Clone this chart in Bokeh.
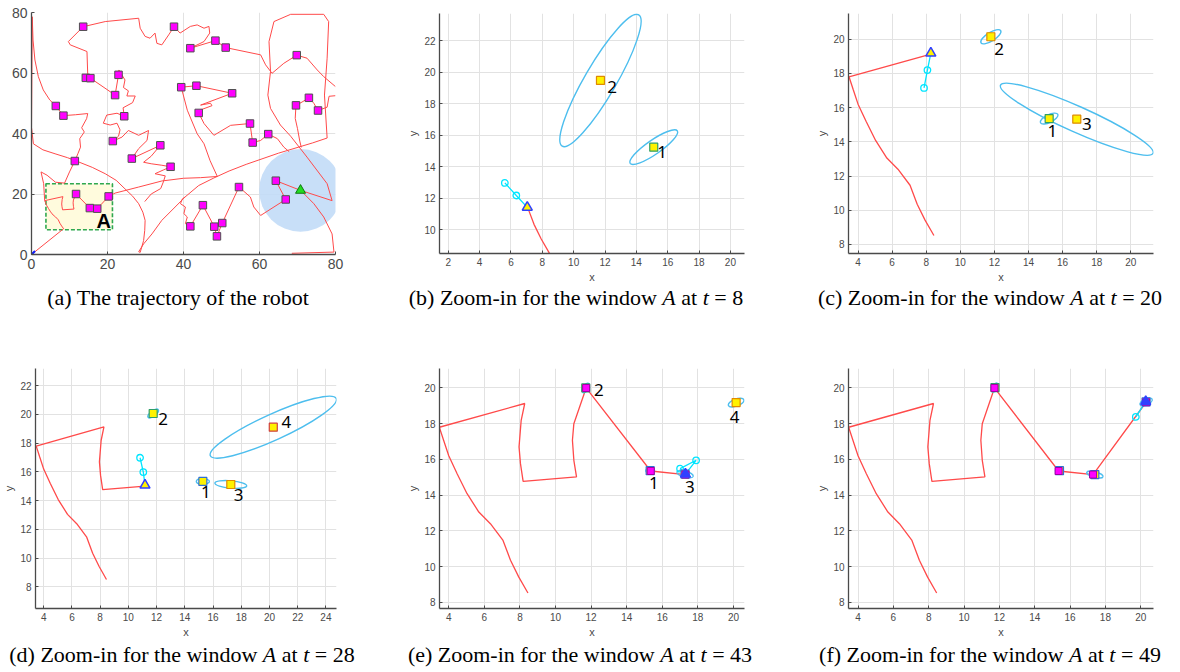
from bokeh.plotting import figure
from bokeh.layouts import row, column
from bokeh.models import Range1d, Div
from bokeh.embed import file_html
from bokeh.resources import INLINE
from bokeh.core.properties import value

# ---------------- panel (a): full trajectory ----------------
LM_X = [13.6, 37.5, 41.8, 48.4, 51.1, 69.8, 14.3, 15.5, 22.9, 22.0, 24.4, 6.4, 8.4, 39.4, 43.4, 52.8, 44.0, 69.6, 73.0, 75.4,
        57.5, 58.2, 62.3, 21.4, 33.9, 26.4, 36.6, 11.4, 11.72, 15.35, 17.3, 20.3, 41.8, 45.1, 48.1, 50.2, 48.8, 54.6, 64.3, 66.9]
LM_Y = [75.3, 75.3, 68.2, 70.7, 68.4, 65.9, 58.4, 58.3, 59.4, 52.7, 45.7, 49.1, 45.9, 55.3, 55.8, 53.3, 46.8, 49.3, 51.8, 47.6,
        43.3, 37.0, 39.8, 37.5, 36.1, 31.7, 29.0, 30.9, 20.0, 15.35, 15.15, 19.2, 9.3, 16.3, 9.2, 10.4, 6.0, 22.3, 24.4, 18.2]

ROBOT_A = (70.8, 21.2)
START_A = (0.0, 0.0)
SENSE_R = 10.9
WIN_A = (3.8, 21.3, 8.2, 23.4)

PATH_A1_X = [0.2, 0.4, 0.9, 1.8, 3.1, 4.8, 6.4, 8.4, 11.6, 14.8, 14.5, 13.2, 13.9, 12.7, 12.9, 12.2, 11.4, 10.0, 8.7, 6.3, 4.1, 2.5, 3.2, 3.47]
PATH_A1_Y = [78.6, 70.9, 64.3, 58.8, 54.4, 51.1, 49.1, 45.9, 46.2, 46.6, 44.9, 41.9, 40.5, 38.3, 35.5, 33.3, 30.9, 27.3, 23.6, 23.9, 26.2, 27.3, 23.4, 17.8]

PATH_A3_X = [0.2, 0.1, 0.0, 0.5, 3.0, 6.2, 9.5, 12.4, 16.0, 19.4, 22.3, 24.6, 26.6, 28.2, 29.3, 29.9, 29.8, 29.5, 28.6, 28.2, 29.5,
             31.7, 34.3, 37.8, 40.4, 44.0, 48.0, 52.0, 56.5, 65.0, 74.0, 77.8, 77.1, 77.8, 78.2, 76.9, 68.2, 63.8, 62.5, 62.9,
             62.2, 62.9, 65.5, 68.2, 72.5, 77.8, 79.1, 70.8, 64.3, 66.9, 60.3, 58.5, 57.6, 54.6, 50.2, 48.8, 48.1, 45.1, 41.8,
             40.5, 41.0, 40.1, 40.5, 39.2, 39.7, 40.4]
PATH_A3_Y = [78.6, 60.0, 42.0, 36.6, 34.6, 33.3, 32.0, 30.6, 28.8, 26.7, 24.5, 21.7, 19.3, 16.8, 14.0, 11.3, 8.0, 4.6, 0.7, 0.9, 3.5,
             6.8, 11.3, 15.7, 19.0, 22.8, 25.3, 27.6, 29.8, 33.5, 36.9, 38.5, 52.7, 64.9, 77.0, 79.4, 79.4, 77.0, 70.4, 60.5,
             52.7, 48.3, 42.8, 39.1, 32.2, 23.4, 17.8, 21.2, 24.4, 18.2, 12.9, 15.7, 19.0, 22.3, 10.4, 6.0, 9.2, 16.3, 9.3,
             10.2, 12.4, 13.5, 15.7, 16.8, 18.4, 19.0]

PATH_A4_X = [70.8, 71.7, 74.3, 76.9, 79.1, 79.6, 68.5]
PATH_A4_Y = [21.2, 20.1, 16.8, 12.4, 6.8, 0.8, 0.4]

PATH_A5_X = [14.3, 14.8, 14.6, 10.2, 9.7, 13.6, 19.4, 28.2, 28.6, 29.9, 31.2, 32.5, 33.0, 34.3, 36.1, 37.5, 39.1, 41.8, 43.6,
             45.4, 46.7, 46.9, 45.4, 41.8, 48.4, 51.1, 60.3, 61.6, 63.3, 66.4, 69.8, 72.5, 75.2, 76.9, 80.0]
PATH_A5_Y = [58.4, 59.4, 67.1, 69.3, 70.4, 75.3, 77.0, 78.1, 74.8, 72.1, 71.5, 73.2, 69.8, 69.3, 72.6, 75.3, 73.2, 75.4, 75.9,
             74.8, 75.4, 73.2, 70.4, 68.2, 70.7, 68.4, 66.0, 62.7, 59.9, 63.2, 65.9, 64.9, 61.0, 58.8, 55.5]

PATH_A6_X = [14.3, 15.5, 22.0, 22.9, 23.0, 24.6, 24.2, 25.5, 25.1, 27.3, 26.6, 24.1, 24.4, 22.5, 19.8, 18.9, 20.7, 22.5, 23.3,
             22.9, 21.4, 23.8, 25.5, 28.2, 30.8, 30.4, 28.2, 26.4, 33.9, 31.5, 29.5, 31.5, 34.3, 36.6, 34.8, 32.5, 35.2, 34.7,
             34.0, 31.5, 29.8]
PATH_A6_Y = [58.4, 58.3, 52.7, 59.4, 61.0, 57.7, 55.2, 54.1, 52.4, 52.4, 50.2, 48.5, 45.7, 46.7, 46.1, 43.4, 42.8, 43.4, 41.2,
             39.1, 37.5, 38.8, 41.0, 39.4, 41.0, 37.7, 35.0, 31.7, 36.1, 32.5, 30.5, 30.0, 29.5, 29.0, 28.0, 26.7, 26.0, 24.0,
             21.8, 20.0, 17.5]

PATH_A7_X = [48.9, 47.0, 45.4, 43.6, 41.0, 39.4, 43.4, 52.8, 44.5, 47.1, 47.5, 44.5, 44.0, 45.4, 48.0, 52.4, 57.5, 58.2, 60.3,
             62.3, 64.7, 66.4, 67.8]
PATH_A7_Y = [25.8, 31.0, 36.6, 39.9, 47.7, 55.3, 55.8, 53.3, 49.4, 50.0, 49.2, 47.8, 46.8, 43.3, 39.4, 42.7, 43.3, 37.0, 37.7,
             39.8, 38.3, 35.5, 34.0]

PATH_A8_X = [80.0, 78.3, 77.8, 75.4, 74.3, 73.0, 71.2, 69.6, 69.4, 70.0, 70.6, 71.0]
PATH_A8_Y = [52.5, 52.3, 48.7, 47.6, 50.0, 51.8, 50.4, 49.3, 45.0, 41.6, 37.5, 35.4]

# trajectory inside window A (shared by the zoom-in panels)
WIN_X = [8.45, 7.93, 7.47, 7.05, 6.34, 5.69, 5.03, 4.47, 4.00, 3.72, 3.47, 8.27, 8.07, 7.95, 8.03, 8.18, 11.18, 11.03, 10.95,
         11.03, 11.72, 15.35, 17.30, 20.30]
WIN_Y = [8.52, 9.42, 10.35, 11.46, 12.40, 13.05, 14.08, 15.20, 16.20, 17.04, 17.80, 19.13, 18.19, 16.70, 15.76, 14.77, 15.02,
         15.95, 17.07, 18.00, 20.00, 15.35, 15.15, 19.20]
EXIT_X = [22.0, 28.2, 34.3, 40.0, 44.5, 48.9]
EXIT_Y = [20.3, 22.3, 24.3, 25.2, 25.4, 25.8]

# ---------------- zoom-in panels (b)-(f) ----------------
TIMES = [8, 20, 28, 43, 49]
WIN_N = [4, 12, 17, 23, 24]
ROBOT_X = [7.04, 8.27, 11.18, 17.30, 20.28]
ROBOT_Y = [11.43, 19.18, 15.08, 15.17, 19.24]

CYAN_X = [[7.04, 6.34, 5.61], [8.27, 8.07, 7.87], [11.18, 11.06, 10.83], [17.00, 17.30, 17.90, 17.00], [20.28, 19.72]]
CYAN_Y = [[11.43, 12.18, 12.98], [19.18, 18.19, 17.15], [15.08, 15.99, 16.99], [15.48, 15.17, 15.95, 15.48], [19.24, 18.38]]
CIRC_X = [[6.34, 5.61], [8.07, 7.87], [11.06, 10.83], [17.00, 17.90], [19.72]]
CIRC_Y = [[12.18, 12.98], [18.19, 17.15], [15.99, 16.99], [15.48, 15.95], [18.38]]

EST_ID = [[1, 2], [1, 2, 3], [1, 2, 3, 4], [1, 2, 3, 4], [1, 2, 3, 4]]
EST_X = [[15.11, 11.71], [15.21, 11.79, 16.83], [15.28, 11.76, 17.26, 20.27], [15.32, 11.70, 17.28, 20.15],
         [15.40, 11.75, 17.40, 20.30]]
EST_Y = [[15.25, 19.48], [15.36, 20.14, 15.32], [15.34, 20.07, 15.13, 19.12], [15.37, 20.00, 15.17, 19.18],
         [15.37, 20.02, 15.15, 19.22]]
ELL_W = [[3.66, 9.7], [1.13, 1.36, 9.8], [0.93, 0.9, 2.26, 9.8], [0.49, 0.6, 0.95, 0.92], [0.45, 0.55, 0.95, 0.75]]
ELL_H = [[0.9, 2.0], [0.45, 0.5, 1.5], [0.37, 0.35, 0.51, 1.8], [0.25, 0.3, 0.35, 0.4], [0.25, 0.3, 0.3, 0.35]]
ELL_A = [[34.7, 59.8], [25.6, 32.0, -24.1], [0.0, 36.8, -5.0, 24.5], [0.0, 60.0, -15.0, 20.0], [0.0, 60.0, -15.0, 25.0]]
EST_EDGE = [["#2E9E6A", "#E08A00"], ["#2E9E6A", "#E08A00", "#E08A00"], ["#2F6FD6", "#2E9E6A", "#E08A00", "#D04040"],
            ["#2F6FD6", "#2E9E6A", "#2F6FD6", "#E08A00"], ["#2F6FD6", "#2E9E6A", "#2F6FD6", "#2F6FD6"]]
LBL_X = [[15.65, 12.45], [15.40, 12.27, 17.42], [15.49, 12.46, 17.82, 21.20], [15.52, 12.43, 17.55, 20.07], []]
LBL_Y = [[14.95, 19.05], [14.63, 19.45, 15.06], [14.62, 19.68, 14.38, 19.50], [14.70, 19.87, 14.46, 18.38], []]
VISITED = [0, 0, 0, 3, 4]  # how many window landmarks (in visiting order) have been reached

RANGES_X = [(1.44, 20.9), (3.44, 21.33), (3.42, 24.75), (3.48, 20.62), (3.46, 20.72)]
RANGES_Y = [(8.5, 23.73), (7.47, 21.5), (6.5, 23.2), (7.65, 21.09), (7.65, 21.09)]
XTICKS = [list(range(2, 21, 2)), list(range(4, 21, 2)), list(range(4, 25, 2)), list(range(4, 21, 2)), list(range(4, 21, 2))]
YTICKS = [list(range(10, 23, 2)), list(range(8, 21, 2)), list(range(8, 23, 2)), list(range(8, 21, 2)), list(range(8, 21, 2))]

CAPTIONS = ["(a) The trajectory of the robot"] + \
    [f"({c}) Zoom-in for the window <i>A</i> at <i>t</i> = {t}" for c, t in zip("bcdef", TIMES)]

RED = "#FF4A4A"
ELL = "#4DBEEE"
CYAN = "#00E5FF"
AXC = "#4A4A4A"
GRID = "#E2E2E2"
FONT = "Liberation Sans"


def style(p, xt, yt, fs, labels):
    p.xaxis.ticker = xt
    p.yaxis.ticker = yt
    for ax in (p.xaxis[0], p.yaxis[0]):
        ax.major_label_text_font = FONT
        ax.major_label_text_font_size = fs
        ax.major_label_text_color = AXC
        ax.axis_line_color = AXC
        ax.axis_line_width = 1.3
        ax.major_tick_in = 3
        ax.major_tick_out = 0
        ax.major_tick_line_color = AXC
        ax.minor_tick_line_color = None
        ax.major_label_standoff = 4
        ax.axis_label_text_font = FONT
        ax.axis_label_text_font_size = "11px"
        ax.axis_label_text_font_style = "normal"
        ax.axis_label_text_color = AXC
        ax.axis_label_standoff = 2
    if labels:
        p.xaxis.axis_label = "x"
        p.yaxis.axis_label = "y"
    p.grid.grid_line_color = GRID
    p.outline_line_color = None
    p.background_fill_color = "white"
    p.border_fill_color = "white"


def make_fig(w, h, l, r, t, b, xr, yr):
    return figure(width=w, height=h, min_border_left=l, min_border_right=r, min_border_top=t, min_border_bottom=b,
                  x_range=Range1d(*xr), y_range=Range1d(*yr), output_backend="svg", toolbar_location=None,
                  margin=(0, 0, 0, 0))


# ---- panel (a)
pa = make_fig(390, 288, 31, 55, 12, 34, (0, 80), (0, 80))
style(pa, [0, 20, 40, 60, 80], [0, 20, 40, 60, 80], "14px", False)
pa.circle([ROBOT_A[0]], [ROBOT_A[1]], radius=SENSE_R, radius_dimension="x", fill_color="#C2DCF7", fill_alpha=0.9,
          line_color=None)
pa.quad(left=[WIN_A[0]], right=[WIN_A[1]], bottom=[WIN_A[2]], top=[WIN_A[3]], fill_color="#FFFBDD",
        line_color="#2FA84F", line_width=1.6, line_dash="4 2")
paths_x = [PATH_A1_X, [START_A[0]] + WIN_X + EXIT_X, PATH_A3_X, PATH_A4_X, PATH_A5_X, PATH_A6_X, PATH_A7_X, PATH_A8_X]
paths_y = [PATH_A1_Y, [START_A[1]] + WIN_Y + EXIT_Y, PATH_A3_Y, PATH_A4_Y, PATH_A5_Y, PATH_A6_Y, PATH_A7_Y, PATH_A8_Y]
pa.multi_line(paths_x, paths_y, line_color=RED, line_width=1.0)
pa.text(x=[19.0], y=[11.0], text=["A"], text_font=value(FONT), text_font_style="bold", text_font_size="20px",
        text_align="center", text_baseline="middle", text_color="black")
pa.scatter(LM_X, LM_Y, marker="square", size=7.5, fill_color="#FF00FF", line_color="#505050", line_width=1)
pa.scatter([ROBOT_A[0]], [ROBOT_A[1]], marker="triangle", size=10, fill_color="#22DD22", line_color="#117711")
pa.scatter([START_A[0]], [START_A[1]], marker="x", size=10, line_color="#1020FF", line_width=2.2)

# ---- zoom panels: (width, height, left, right, top, bottom) borders
GEOM = [(400, 288, 49, 46, 13, 35), (390, 288, 58, 27, 13, 35), (390, 320, 31, 54, 48, 32),
        (400, 320, 49, 46, 48, 32), (390, 320, 58, 27, 48, 32)]
zoom_figs = []
for k in range(5):
    w, h, l, r, t, b = GEOM[k]
    p = make_fig(w, h, l, r, t, b, RANGES_X[k], RANGES_Y[k])
    style(p, XTICKS[k], YTICKS[k], "10px", True)
    n = WIN_N[k]
    p.line(WIN_X[:n], WIN_Y[:n], line_color=RED, line_width=1.3)
    p.ellipse(EST_X[k], EST_Y[k], width=ELL_W[k], height=ELL_H[k], angle=ELL_A[k], angle_units="deg",
              fill_color=None, line_color=ELL, line_width=1.4)
    p.line(CYAN_X[k], CYAN_Y[k], line_color=CYAN, line_width=1.3)
    p.scatter(CIRC_X[k], CIRC_Y[k], marker="circle", size=6.5, fill_color=None, line_color=CYAN, line_width=1.3)
    p.scatter(EST_X[k], EST_Y[k], marker="square", size=8, fill_color="#FFF200", line_color=EST_EDGE[k], line_width=1.2)
    vis = VISITED[k]
    if vis:
        vx = [LM_X[28 + i] for i in range(vis)]
        vy = [LM_Y[28 + i] for i in range(vis)]
        p.scatter(vx, vy, marker="square", size=7, fill_color="#FF00FF", line_color="#A000A0", line_width=1)
    p.scatter([ROBOT_X[k]], [ROBOT_Y[k]], marker="triangle", size=10, fill_color="#FFF200" if k < 3 else "#3040FF",
              line_color="#3040FF", line_width=1.5)
    if LBL_X[k]:
        p.text(x=LBL_X[k], y=LBL_Y[k], text=[str(i) for i in EST_ID[k]], text_font=value("Noto Sans"),
               text_font_size="17px", text_align="center", text_baseline="middle", text_color="black")
    zoom_figs.append(p)


def cap(html, w, h, pad, inner, mt):
    style_ = (f"margin-left:{pad}px;width:{inner}px;margin-top:{mt}px;text-align:center;white-space:nowrap;"
              f"font-family:'Liberation Serif';font-size:22px;line-height:20px;color:#000")
    return Div(text=f'<div style="{style_}">{html}</div>', width=w, height=h, margin=(0, 0, 0, 0))


caps = [cap(CAPTIONS[0], 390, 32, 0, 356, 0), cap(CAPTIONS[1], 400, 32, 0, 372, 0), cap(CAPTIONS[2], 390, 32, 10, 380, 0),
        cap(CAPTIONS[3], 390, 30, 0, 364, 5), cap(CAPTIONS[4], 400, 30, 0, 380, 5), cap(CAPTIONS[5], 390, 30, 10, 380, 5)]

figs = [pa] + zoom_figs
layout = column(row(column(figs[0], caps[0], spacing=0), column(figs[1], caps[1], spacing=0),
                    column(figs[2], caps[2], spacing=0), spacing=0),
                row(column(figs[3], caps[3], spacing=0), column(figs[4], caps[4], spacing=0),
                    column(figs[5], caps[5], spacing=0), spacing=0), spacing=0)

open("out.html", "w").write(file_html(layout, INLINE))
